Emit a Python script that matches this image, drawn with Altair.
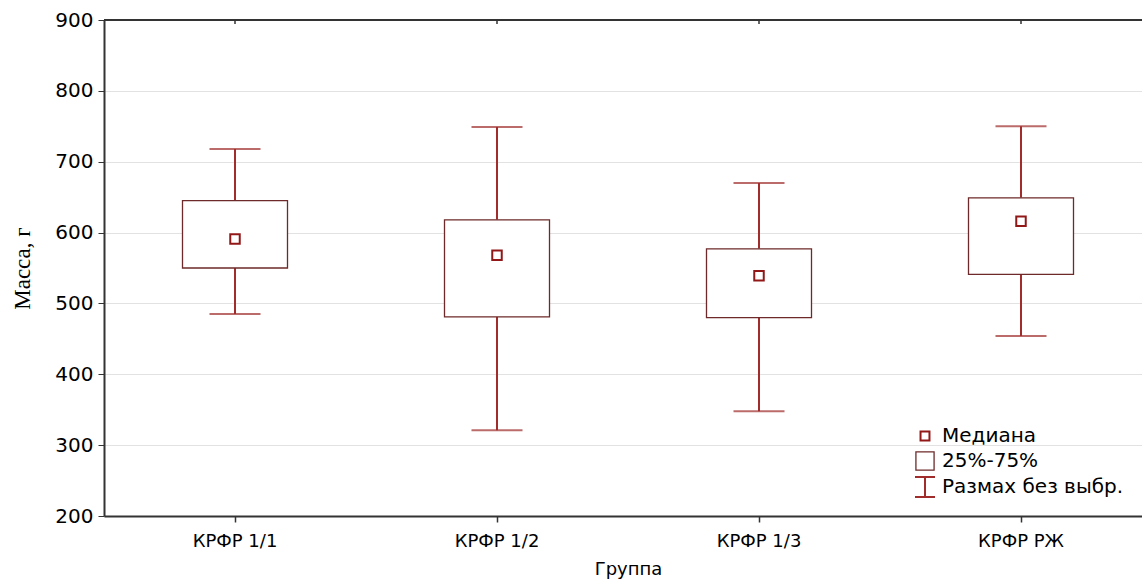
import altair as alt
import pandas as pd

groups = ["КРФР 1/1", "КРФР 1/2", "КРФР 1/3", "КРФР РЖ"]
whisker_low = [485, 321, 348, 454]
q1 = [550, 481, 480, 541]
median = [591, 568, 539, 616]
q3 = [645, 618, 577, 649]
whisker_high = [718, 749, 670, 750]

df = pd.DataFrame({
    "g": groups, "lo": whisker_low, "q1": q1, "med": median,
    "q3": q3, "hi": whisker_high,
})

W, H = 1038, 496
WHISK = "#a02c2c"
BOXC = "#6e2a2a"
MEDC = "#921818"
FONT = "DejaVu Sans"

xscale = alt.Scale(paddingInner=0, paddingOuter=0, range=[0, 1048])
x = alt.X("g:N", sort=groups, title="Группа", scale=xscale,
          axis=alt.Axis(labelAngle=0, labelFontSize=18, labelFont=FONT, labelColor="#000",
                        titleFont=FONT, titleFontSize=18, titleFontWeight="normal", titleColor="#000",
                        titlePadding=10, labelPadding=10, tickSize=6, tickColor="#333",
                        domainColor="#333", domainWidth=2, tickWidth=1.5, grid=False))
yscale = alt.Scale(domain=[200, 900], nice=False, zero=False)
y_ax = alt.Axis(values=[200, 300, 400, 500, 600, 700, 800, 900], labelFontSize=20,
                labelFont=FONT, labelColor="#000", title="Масса, г", titleFont="Liberation Serif",
                titleFontSize=23, titleFontWeight="normal", titleColor="#000", titlePadding=20,
                gridColor="#e2e2e2", gridWidth=1.2, domainColor="#333", domainWidth=2,
                tickColor="#333", tickSize=6, labelPadding=5)

base = alt.Chart(df)
xs = alt.X("g:N", sort=groups, scale=xscale)

whisk_lo = base.mark_rule(color=WHISK, strokeWidth=2).encode(
    x=x, y=alt.Y("lo:Q", scale=yscale, axis=y_ax), y2="q1:Q")
whisk_hi = base.mark_rule(color=WHISK, strokeWidth=2).encode(
    x=xs, y=alt.Y("q3:Q", scale=yscale), y2="hi:Q")
cap_lo = base.mark_tick(color=WHISK, thickness=2, size=51, orient="horizontal").encode(
    x=xs, y=alt.Y("lo:Q", scale=yscale))
cap_hi = base.mark_tick(color=WHISK, thickness=2, size=51, orient="horizontal").encode(
    x=xs, y=alt.Y("hi:Q", scale=yscale))
box = base.mark_bar(fill="white", stroke=BOXC, strokeWidth=1.3, size=105).encode(
    x=xs, y=alt.Y("q1:Q", scale=yscale), y2="q3:Q")
med = base.mark_point(shape="square", size=90, filled=False, color=MEDC, strokeWidth=2,
                      opacity=1).encode(
    x=xs, y=alt.Y("med:Q", scale=yscale))

top_line = base.mark_rule(color="#333", strokeWidth=2).encode(
    y=alt.datum(900, scale=yscale), x=alt.value(0), x2=alt.value(W))
top_ticks = base.mark_rule(color="#333", strokeWidth=1.5).encode(
    x=xs, y=alt.value(0), y2=alt.value(4))

# legend
leg_x, leg_t = 821, 838
leg_items = ["Медиана", "25%-75%", "Размах без выбр."]
leg_y = [416, 441, 467]
leg = []
leg.append(alt.Chart(pd.DataFrame({"t": [leg_items[0]]})).mark_point(
    shape="square", size=80, filled=False, color=MEDC, strokeWidth=2, opacity=1).encode(
    x=alt.value(leg_x), y=alt.value(leg_y[0])))
leg.append(alt.Chart(pd.DataFrame({"t": [leg_items[1]]})).mark_point(
    shape="square", size=330, filled=False, color=BOXC, strokeWidth=1.3, opacity=1).encode(
    x=alt.value(leg_x), y=alt.value(leg_y[1])))
leg.append(alt.Chart(pd.DataFrame({"t": [leg_items[2]]})).mark_rule(
    color=WHISK, strokeWidth=2).encode(
    x=alt.value(leg_x), y=alt.value(leg_y[2] - 10), y2=alt.value(leg_y[2] + 10)))
for dy in (-10, 10):
    leg.append(alt.Chart(pd.DataFrame({"t": [leg_items[2]]})).mark_rule(
        color=WHISK, strokeWidth=2).encode(
        x=alt.value(leg_x - 10), x2=alt.value(leg_x + 10), y=alt.value(leg_y[2] + dy)))
for t, yy in zip(leg_items, leg_y):
    leg.append(alt.Chart(pd.DataFrame({"t": [t]})).mark_text(
        align="left", baseline="middle", fontSize=20, font=FONT, color="#000").encode(
        text="t:N", x=alt.value(leg_t), y=alt.value(yy)))

chart = alt.layer(whisk_lo, whisk_hi, cap_lo, cap_hi, box, med, top_line, top_ticks, *leg).properties(
    width=W, height=H,
    autosize=alt.AutoSizeParams(type="none"),
    padding={"left": 104, "top": 20, "right": 0, "bottom": 65},
).configure_view(stroke=None).configure(background="white")

chart.save("out.html", embed_options={"renderer": "svg", "actions": False})
